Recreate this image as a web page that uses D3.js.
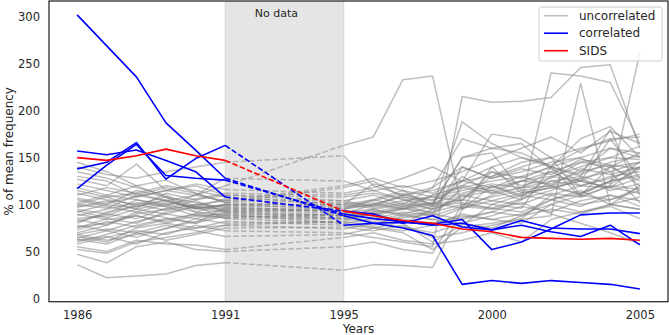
<!DOCTYPE html>
<html>
<head>
<meta charset="utf-8">
<script src="https://cdn.jsdelivr.net/npm/d3@7"></script>
<style>
  body { margin: 0; background: #fff; }
  text { font-family: 'DejaVu Sans', sans-serif; fill: #262626; }
</style>
</head>
<body>
<div id="chart"></div>
<script>
// years with data, before and after the gap
const yearsLeft = [1986, 1987, 1988, 1989, 1990, 1991];
const yearsRight = [1995, 1996, 1997, 1998, 1999, 2000, 2001, 2002, 2003, 2004, 2005];
const gapYears = [1991, 1995];
const xTicks = [1986, 1991, 1995, 2000, 2005];
const yTicks = [0, 50, 100, 150, 200, 250, 300];

// uncorrelated series (1986-1991 / 1995-2005)
const grayLeft = [
  [36, 22, 24, 26, 35, 38],
  [47, 38, 55, 60, 52, 50],
  [55, 50, 62, 58, 57, 52],
  [62, 66, 58, 70, 75, 82],
  [64, 72, 82, 90, 85, 92],
  [66, 60, 75, 80, 88, 86],
  [70, 78, 90, 95, 100, 98],
  [75, 85, 80, 92, 98, 95],
  [80, 92, 98, 105, 95, 100],
  [85, 88, 100, 108, 102, 96],
  [88, 95, 102, 98, 110, 104],
  [92, 100, 96, 112, 105, 110],
  [95, 90, 105, 100, 92, 88],
  [98, 104, 95, 90, 98, 94],
  [100, 96, 110, 118, 112, 102],
  [102, 110, 105, 98, 88, 90],
  [105, 98, 92, 100, 106, 112],
  [110, 118, 112, 120, 115, 108],
  [112, 105, 100, 94, 100, 104],
  [118, 110, 120, 108, 96, 100],
  [122, 115, 108, 115, 122, 116],
  [127, 120, 143, 115, 110, 120],
  [130, 125, 110, 104, 96, 92],
  [135, 128, 118, 110, 98, 85],
  [145, 135, 120, 126, 112, 102],
  [58, 65, 72, 68, 78, 72],
  [52, 48, 60, 65, 70, 78],
  [68, 74, 70, 62, 68, 75],
  [78, 72, 65, 75, 82, 90],
  [90, 84, 88, 80, 75, 78],
  [97, 102, 108, 115, 120, 110],
  [115, 108, 98, 104, 110, 128],
  [63, 58, 70, 78, 72, 66],
  [73, 82, 76, 84, 90, 86],
  [84, 78, 92, 86, 80, 97],
  [107, 100, 115, 108, 92, 100],
  [140, 132, 128, 135, 140, 145],
  [60, 68, 78, 85, 80, 88],
  [82, 90, 85, 96, 104, 92],
  [93, 86, 95, 102, 98, 106],
  [68, 62, 68, 74, 85, 80],
  [100, 108, 112, 104, 96, 99],
  [76, 80, 88, 82, 90, 94]
];
const grayRight = [
  [30, 36, 35, 33, 95, 110, 118, 125, 120, 130, 135],
  [55, 60, 52, 48, 100, 96, 92, 105, 98, 110, 104],
  [65, 70, 62, 58, 62, 70, 60, 84, 92, 100, 95],
  [78, 75, 70, 52, 76, 80, 85, 110, 100, 105, 115],
  [88, 82, 90, 84, 80, 75, 88, 95, 90, 100, 108],
  [84, 92, 80, 95, 130, 112, 118, 120, 128, 115, 122],
  [92, 95, 100, 90, 140, 128, 135, 145, 150, 160, 155],
  [96, 100, 110, 105, 112, 120, 108, 130, 125, 140, 145],
  [100, 105, 98, 110, 118, 125, 130, 120, 138, 132, 140],
  [90, 88, 95, 100, 105, 100, 110, 118, 112, 125, 130],
  [102, 98, 104, 108, 115, 122, 118, 135, 145, 150, 162],
  [108, 112, 106, 98, 125, 140, 150, 142, 158, 170, 172],
  [86, 95, 88, 92, 100, 108, 115, 110, 120, 118, 128],
  [94, 90, 96, 102, 110, 104, 100, 112, 108, 120, 116],
  [98, 104, 112, 100, 150, 160, 155, 140, 170, 183, 150],
  [80, 85, 92, 88, 98, 95, 102, 90, 80, 70, 58],
  [110, 115, 120, 112, 125, 130, 140, 150, 160, 168, 175],
  [100, 96, 102, 95, 108, 115, 105, 125, 130, 122, 138],
  [120, 128, 118, 125, 135, 148, 160, 172, 155, 178, 165],
  [95, 105, 115, 98, 188, 165, 150, 140, 130, 180, 110],
  [112, 118, 128, 140, 125, 175, 170, 150, 110, 125, 145],
  [163, 172, 233, 237, 95, 120, 110, 105, 115, 100, 120],
  [85, 80, 76, 70, 80, 88, 98, 92, 104, 110, 98],
  [80, 76, 72, 78, 90, 84, 80, 100, 92, 98, 85],
  [118, 125, 108, 100, 150, 155, 115, 120, 110, 140, 125],
  [70, 65, 60, 55, 215, 209, 210, 214, 246, 249, 160],
  [74, 80, 86, 90, 84, 92, 105, 240, 237, 230, 165],
  [76, 72, 78, 65, 70, 78, 84, 88, 229, 100, 95],
  [88, 86, 80, 60, 78, 100, 96, 140, 108, 120, 262],
  [82, 92, 98, 102, 96, 140, 112, 118, 125, 170, 128],
  [104, 110, 100, 118, 170, 160, 165, 138, 125, 118, 140],
  [125, 115, 105, 95, 105, 130, 145, 150, 135, 160, 150],
  [68, 75, 82, 80, 88, 84, 90, 100, 110, 105, 118],
  [90, 100, 95, 110, 120, 115, 125, 130, 140, 150, 148],
  [92, 88, 84, 80, 86, 92, 88, 105, 112, 125, 132],
  [100, 122, 115, 108, 104, 135, 120, 128, 145, 140, 155],
  [152, 120, 110, 115, 125, 118, 130, 140, 150, 135, 145],
  [85, 90, 96, 92, 110, 118, 125, 122, 135, 142, 138],
  [95, 100, 108, 104, 120, 135, 128, 140, 132, 145, 152],
  [104, 98, 110, 118, 140, 128, 138, 132, 148, 142, 120],
  [82, 78, 88, 84, 96, 104, 112, 118, 125, 118, 112],
  [97, 102, 96, 88, 118, 112, 125, 135, 120, 128, 140],
  [88, 94, 90, 98, 102, 96, 106, 115, 128, 135, 102]
];

// correlated series
const blueLeft = [
  [302, 269, 236, 187, 158, 128],
  [157, 153, 158, 147, 135, 108],
  [138, 145, 166, 127, 149, 163],
  [117, 142, 164, 131, 128, 126]
];
const blueRight = [
  [88, 80, 75, 67, 15, 19, 16, 19, 17, 15, 10],
  [93, 90, 80, 88, 76, 73, 78, 71, 66, 78, 57],
  [78, 80, 81, 79, 84, 52, 60, 74, 89, 91, 91],
  [90, 85, 82, 78, 80, 73, 83, 75, 74, 74, 69]
];

// SIDS
const sidsLeft = [150, 147, 152, 159, 152, 147];
const sidsRight = [93, 88, 83, 80, 74, 71, 65, 64, 63, 64, 62];

const legendItems = [
  { label: 'uncorrelated', color: 'gray', opacity: 0.5 },
  { label: 'correlated', color: 'blue', opacity: 1 },
  { label: 'SIDS', color: 'red', opacity: 1 }
];

const totalWidth = 669, totalHeight = 335;
const margin = { left: 49, right: 1, top: 1, bottom: 33.3 };
const width = totalWidth - margin.left - margin.right;
const height = totalHeight - margin.top - margin.bottom;

const svg = d3.select('#chart')
  .append('svg')
  .attr('width', totalWidth)
  .attr('height', totalHeight);

const g = svg.append('g')
  .attr('transform', 'translate(' + margin.left + ',' + margin.top + ')');

// Scales
const x = d3.scaleLinear().domain([1985.05, 2005.95]).range([0, width]);
const y = d3.scaleLinear().domain([-3.5, 316.8]).range([height, 0]);

svg.append('defs').append('clipPath').attr('id', 'clip')
  .append('rect').attr('width', width).attr('height', height);

const plot = g.append('g').attr('clip-path', 'url(#clip)');

// No data span
plot.append('rect')
  .attr('x', x(gapYears[0]))
  .attr('y', 0)
  .attr('width', x(gapYears[1]) - x(gapYears[0]))
  .attr('height', height)
  .attr('fill', '#e5e5e5')
  .attr('stroke', '#d6d6d6')
  .attr('stroke-width', 1);

const line = d3.line().x(d => x(d[0])).y(d => y(d[1]));

function drawSeries(left, right, color, opacity, width) {
  const sg = plot.append('g')
    .attr('fill', 'none')
    .attr('stroke', color)
    .attr('stroke-opacity', opacity)
    .attr('stroke-width', width)
    .attr('stroke-linejoin', 'round');
  sg.append('path').attr('d', line(yearsLeft.map((yr, i) => [yr, left[i]])));
  sg.append('path').attr('d', line(yearsRight.map((yr, i) => [yr, right[i]])));
  sg.append('path')
    .attr('stroke-dasharray', '5.5,2.4')
    .attr('d', line([[gapYears[0], left[left.length - 1]], [gapYears[1], right[0]]]));
}

grayLeft.forEach((d, i) => drawSeries(d, grayRight[i], 'gray', 0.5, 1.5));
blueLeft.forEach((d, i) => drawSeries(d, blueRight[i], 'blue', 1, 1.6));
drawSeries(sidsLeft, sidsRight, 'red', 1, 1.6);

// Label in span
g.append('text')
  .attr('x', x(1992))
  .attr('y', 15.5)
  .attr('font-size', 11)
  .text('No data');

// Axes
const xAxisCall = d3.axisBottom(x).tickValues(xTicks).tickSize(0).tickPadding(9).tickFormat(d3.format('d'));
const xAxis = g.append('g')
  .attr('transform', 'translate(0,' + height + ')')
  .call(xAxisCall);
const yAxisCall = d3.axisLeft(y).tickValues(yTicks).tickSize(0).tickPadding(9);
const yAxis = g.append('g').call(yAxisCall);
[xAxis, yAxis].forEach(a => {
  a.select('.domain').remove();
  a.selectAll('text').attr('font-size', 11.5).attr('font-family', "'DejaVu Sans', sans-serif").attr('fill', '#262626');
});

// Frame
g.append('rect')
  .attr('width', width)
  .attr('height', height)
  .attr('fill', 'none')
  .attr('stroke', '#262626')
  .attr('stroke-width', 1.25);

// Labels
g.append('text')
  .attr('x', width / 2)
  .attr('y', height + 31)
  .attr('text-anchor', 'middle')
  .attr('font-size', 12)
  .text('Years');
g.append('text')
  .attr('transform', 'rotate(-90)')
  .attr('x', -height / 2)
  .attr('y', -36)
  .attr('text-anchor', 'middle')
  .attr('font-size', 12)
  .text('% of mean frequency');

// Legend
const legend = svg.append('g').attr('transform', 'translate(539,7)');
legend.append('rect')
  .attr('width', 123)
  .attr('height', 54)
  .attr('rx', 2.5)
  .attr('fill', '#fff')
  .attr('fill-opacity', 0.8)
  .attr('stroke', '#cccccc')
  .attr('stroke-width', 1);
const rows = legend.selectAll('.row')
  .data(legendItems)
  .enter().append('g')
  .attr('transform', (d, i) => 'translate(0,' + (8.7 + i * 17.5) + ')');
rows.append('line')
  .attr('x1', 5).attr('x2', 29)
  .attr('stroke', d => d.color)
  .attr('stroke-opacity', d => d.opacity)
  .attr('stroke-width', 1.6);
rows.append('text')
  .attr('x', 40)
  .attr('dy', '0.35em')
  .attr('font-size', 12)
  .text(d => d.label);
</script>
</body>
</html>
